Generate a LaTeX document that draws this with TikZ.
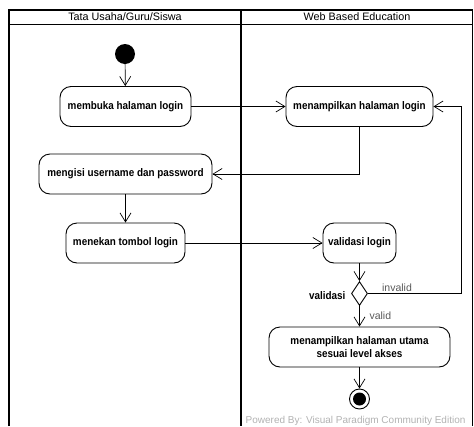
\documentclass[tikz,border=0pt]{standalone}
\usepackage{fontspec}
\setmainfont{Liberation Sans}
\newfontfamily\nodefont{Liberation Sans}[FakeStretch=0.9]
\usetikzlibrary{arrows.meta,shapes.geometric}
\begin{document}
\begin{tikzpicture}[x=1pt,y=-1pt,
  act/.style={draw,line width=0.9pt,rounded corners=11pt,minimum height=40pt,inner sep=2pt,align=center,font=\nodefont\bfseries\fontsize{11}{13.5}\selectfont},
  flow/.style={line width=0.7pt,-{Straight Barb[length=9pt,width=11pt]}},
  lane/.style={line width=1.6pt},
  hdr/.style={font=\fontsize{10.8}{12}\selectfont},
  glabel/.style={font=\fontsize{10.5}{12}\selectfont,text=black!65}
]
\useasboundingbox (0,0) rectangle (474,426);
% swimlanes
\draw[lane] (9,426) -- (9,10) -- (473,10);
\draw[lane] (241,10) -- (241,426);
\draw[line width=1pt] (9,24) -- (473,24);
\draw[line width=0.8pt] (472.5,10) -- (472.5,426);
\node[hdr] (h1) at (125,17) {Tata Usaha/Guru/Siswa};
\node[hdr] (h2) at (357,17) {Web Based Education};
% nodes
\node[circle,fill=black,minimum size=20pt,inner sep=0] (start) at (125,54) {};
\node[act,minimum width=131pt] (a1) at (125.5,106.5) {membuka halaman login};
\node[act,minimum width=147pt] (b1) at (359.5,106.5) {menampilkan halaman login};
\node[act,minimum width=173pt] (a2) at (125.5,174) {mengisi username dan password};
\node[act,minimum width=119pt] (a3) at (125.5,243) {menekan tombol login};
\node[act,minimum width=73pt] (b2) at (359.5,243) {validasi login};
\node[draw,diamond,line width=0.9pt,minimum width=16pt,minimum height=24pt,inner sep=0] (d) at (359.5,293.5) {};
\node[act,minimum width=181pt] (b3) at (359.5,347) {menampilkan halaman utama\\sesuai level akses};
\node[circle,draw,line width=0.9pt,minimum size=20pt,inner sep=0,fill=white] (end) at (359.5,399) {};
\node[circle,fill=black,minimum size=13pt,inner sep=0] (endin) at (end.center) {};
\coordinate (c1) at (461,106.5);
% connectors
\draw[flow] (start) -- (a1);
\draw[flow] (a1) -- (b1);
\draw[flow] (b1.south) |- (a2.east);
\draw[flow] (a2) -- (a3);
\draw[flow] (a3) -- (b2);
\draw[flow] (b2) -- (d);
\draw[flow] (d.east) -| (c1) -- (b1.east);
\draw[flow] (d) -- (b3);
\draw[flow] (b3) -- (end);
% labels
\node[anchor=east,font=\nodefont\bfseries\fontsize{11}{12}\selectfont] (lv) at (349,296) {validasi};
\node[glabel] (li) at (397,288) {invalid};
\node[glabel,anchor=west] (lvl) at (366,316) {valid};
\node[anchor=south west,inner sep=0.5pt,font=\fontsize{10}{12}\selectfont,text=black!30] (wm) at (245,426) {Powered By: Visual Paradigm Community Edition};
\end{tikzpicture}
\end{document}
